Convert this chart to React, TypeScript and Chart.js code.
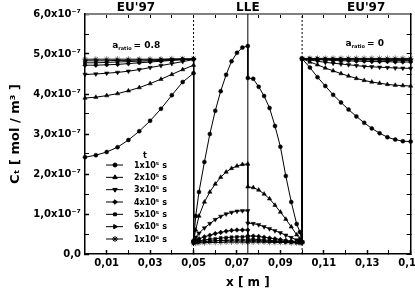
import React, { useEffect, useRef } from 'react';
import { Chart, registerables } from 'chart.js';
import { drawPoint } from 'chart.js/helpers';

Chart.register(...registerables);

const FONT = '"DejaVu Sans", Verdana, sans-serif';

// ---- data ----
const timeLabels = ['1x10\u2075 s', '2x10\u2075 s', '3x10\u2075 s', '4x10\u2075 s', '5x10\u2075 s', '6x10\u2075 s', '1x10\u2076 s'];

// x positions [m] of the four regions
const xEuLeft = [0, 0.005, 0.01, 0.015, 0.02, 0.025, 0.03, 0.035, 0.04, 0.045, 0.05];
const xLleLeft = [0.05, 0.051, 0.0525, 0.055, 0.0575, 0.06, 0.0625, 0.065, 0.0675, 0.07, 0.0725, 0.075];
const xLleRight = [0.075, 0.0775, 0.08, 0.0825, 0.085, 0.0875, 0.09, 0.0925, 0.095, 0.0975, 0.099, 0.1];
const xEuRight = [0.1, 0.1036, 0.1071, 0.1107, 0.1143, 0.1179, 0.1214, 0.125, 0.1286, 0.1321, 0.1357, 0.1393, 0.1429, 0.1464, 0.15];

// concentrations in 10^-7 mol/m3, one row per time
const cEuLeft = [
  [2.42, 2.47, 2.55, 2.67, 2.85, 3.07, 3.33, 3.63, 3.97, 4.3, 4.52],
  [3.9, 3.92, 3.96, 4.01, 4.08, 4.16, 4.26, 4.37, 4.49, 4.61, 4.72],
  [4.49, 4.5, 4.52, 4.54, 4.57, 4.61, 4.66, 4.71, 4.76, 4.81, 4.86],
  [4.72, 4.72, 4.73, 4.74, 4.76, 4.78, 4.8, 4.82, 4.84, 4.86, 4.87],
  [4.78, 4.78, 4.79, 4.8, 4.81, 4.82, 4.83, 4.84, 4.85, 4.86, 4.87],
  [4.83, 4.83, 4.83, 4.84, 4.84, 4.85, 4.85, 4.86, 4.86, 4.87, 4.87],
  [4.87, 4.87, 4.87, 4.87, 4.87, 4.87, 4.87, 4.87, 4.88, 4.88, 4.88],
];
const cLleLeft = [
  [0.3, 0.95, 1.55, 2.3, 3.0, 3.58, 4.07, 4.48, 4.82, 5.03, 5.16, 5.2],
  [0.35, 0.6, 0.95, 1.3, 1.55, 1.75, 1.92, 2.05, 2.14, 2.2, 2.24, 2.25],
  [0.32, 0.42, 0.52, 0.65, 0.76, 0.86, 0.94, 1.0, 1.04, 1.07, 1.08, 1.08],
  [0.3, 0.34, 0.38, 0.43, 0.47, 0.51, 0.54, 0.57, 0.59, 0.6, 0.6, 0.6],
  [0.29, 0.31, 0.33, 0.35, 0.37, 0.38, 0.4, 0.41, 0.42, 0.43, 0.43, 0.43],
  [0.28, 0.29, 0.3, 0.31, 0.32, 0.33, 0.34, 0.34, 0.35, 0.35, 0.35, 0.35],
  [0.27, 0.27, 0.28, 0.28, 0.29, 0.29, 0.29, 0.3, 0.3, 0.3, 0.3, 0.3],
];
const cLleRight = [
  [4.4, 4.38, 4.18, 3.95, 3.65, 3.2, 2.68, 1.95, 1.3, 0.75, 0.55, 0.3],
  [1.68, 1.66, 1.6, 1.5, 1.38, 1.22, 1.05, 0.87, 0.68, 0.48, 0.38, 0.3],
  [0.77, 0.76, 0.73, 0.68, 0.63, 0.58, 0.53, 0.47, 0.41, 0.35, 0.32, 0.3],
  [0.45, 0.45, 0.44, 0.42, 0.4, 0.38, 0.36, 0.34, 0.32, 0.31, 0.3, 0.3],
  [0.37, 0.37, 0.36, 0.35, 0.34, 0.33, 0.32, 0.31, 0.3, 0.3, 0.29, 0.29],
  [0.33, 0.33, 0.33, 0.32, 0.32, 0.31, 0.31, 0.3, 0.3, 0.29, 0.29, 0.29],
  [0.3, 0.3, 0.3, 0.3, 0.29, 0.29, 0.29, 0.29, 0.28, 0.28, 0.28, 0.28],
];
const cEuRight = [
  [4.88, 4.66, 4.42, 4.2, 3.98, 3.79, 3.61, 3.44, 3.28, 3.14, 3.02, 2.92, 2.86, 2.82, 2.81],
  [4.88, 4.8, 4.73, 4.65, 4.58, 4.51, 4.45, 4.39, 4.34, 4.3, 4.27, 4.24, 4.22, 4.21, 4.2],
  [4.88, 4.85, 4.82, 4.79, 4.77, 4.75, 4.73, 4.71, 4.69, 4.68, 4.67, 4.66, 4.65, 4.645, 4.64],
  [4.88, 4.87, 4.86, 4.85, 4.84, 4.83, 4.83, 4.82, 4.82, 4.81, 4.81, 4.81, 4.8, 4.8, 4.8],
  [4.88, 4.88, 4.87, 4.87, 4.86, 4.86, 4.86, 4.85, 4.85, 4.85, 4.85, 4.84, 4.84, 4.84, 4.84],
  [4.88, 4.88, 4.88, 4.87, 4.87, 4.87, 4.87, 4.87, 4.86, 4.86, 4.86, 4.86, 4.86, 4.86, 4.86],
  [4.89, 4.89, 4.89, 4.89, 4.89, 4.89, 4.89, 4.89, 4.89, 4.89, 4.89, 4.89, 4.89, 4.89, 4.89],
];

// region boundaries and headers
const interfaces = [0.05, 0.075, 0.1];
const regionLabels = ["EU'97", 'LLE', "EU'97"];
const regionLabelPos = [0.0235, 0.075, 0.1295];
const ratioLabels = ['0.8', '0'];

// ticks
const xTickValues = [0.01, 0.02, 0.03, 0.04, 0.05, 0.06, 0.07, 0.08, 0.09, 0.1, 0.11, 0.12, 0.13, 0.14, 0.15];
const xTickLabels = ['0,01', '', '0,03', '', '0,05', '', '0,07', '', '0,09', '', '0,11', '', '0,13', '', '0,15'];
const topTickValues = [0.01, 0.02, 0.03, 0.04, 0.05, 0.06, 0.07, 0.08, 0.09, 0.1, 0.11, 0.12, 0.13, 0.14];
const yTickValues = [0, 0.5, 1, 1.5, 2, 2.5, 3, 3.5, 4, 4.5, 5, 5.5, 6];
const yTickLabels = ['0,0', '', '1,0x10\u207B\u2077', '', '2,0x10\u207B\u2077', '', '3,0x10\u207B\u2077', '', '4,0x10\u207B\u2077', '', '5,0x10\u207B\u2077', '', '6,0x10\u207B\u2077'];

// ---- styles ----
const markers = [
  { pointStyle: 'circle', rotation: 0, radius: 2 },
  { pointStyle: 'triangle', rotation: 0, radius: 2.5 },
  { pointStyle: 'triangle', rotation: 180, radius: 2.5 },
  { pointStyle: 'rectRot', rotation: 0, radius: 2.3 },
  { pointStyle: 'rect', rotation: 0, radius: 2 },
  { pointStyle: 'triangle', rotation: 90, radius: 2.5 },
  { pointStyle: 'star', rotation: 0, radius: 3 },
];

const isRegionTick = (v: number) => regionLabelPos.some((p) => Math.abs(p - v) < 1e-9);

const legendPlugin = {
  id: 'timeLegend',
  afterDraw(chart: any) {
    const { ctx, chartArea } = chart;
    const x0 = chartArea.left + 21;
    const lastY = chartArea.bottom - 15;
    const step = 12.33;
    const n = timeLabels.length;
    ctx.save();
    ctx.fillStyle = '#000';
    ctx.strokeStyle = '#000';
    ctx.font = `bold 8px ${FONT}`;
    ctx.textBaseline = 'middle';
    ctx.textAlign = 'center';
    const firstY = lastY - (n - 1) * step;
    ctx.fillText('t', x0 + 39, firstY - 9);
    ctx.textAlign = 'left';
    timeLabels.forEach((lab, i) => {
      const y = lastY - (n - 1 - i) * step;
      ctx.lineWidth = 1;
      ctx.beginPath();
      ctx.moveTo(x0, y);
      ctx.lineTo(x0 + 17, y);
      ctx.stroke();
      drawPoint(ctx, { ...markers[i], borderWidth: 0.5 } as any, x0 + 9, y);
      ctx.fillStyle = '#000';
      ctx.fillText(lab, x0 + 28, y + 0.5);
    });
    ctx.restore();
  },
};

const ratioPlugin = {
  id: 'ratioText',
  afterDatasetsDraw(chart: any) {
    const { ctx } = chart;
    const xs = chart.scales.x;
    const ys = chart.scales.y;
    const anchors = [
      { x: 0.0125, y: 5.22 },
      { x: 0.12, y: 5.27 },
    ];
    ctx.save();
    ctx.fillStyle = '#000';
    ctx.textBaseline = 'middle';
    ctx.textAlign = 'left';
    anchors.forEach((a, i) => {
      let px = xs.getPixelForValue(a.x);
      const py = ys.getPixelForValue(a.y);
      ctx.font = `bold 9px ${FONT}`;
      ctx.fillText('a', px, py);
      px += ctx.measureText('a').width;
      ctx.font = `bold 5px ${FONT}`;
      ctx.fillText('ratio', px, py + 3.5);
      px += ctx.measureText('ratio').width + 2;
      ctx.font = `bold 9px ${FONT}`;
      ctx.fillText('= ' + ratioLabels[i], px, py);
    });
    ctx.restore();
  },
};

function buildDatasets() {
  const series = timeLabels.map((lab, i) => {
    const pts = [
      ...xEuLeft.map((x, k) => ({ x, y: cEuLeft[i][k] })),
      ...xLleLeft.map((x, k) => ({ x, y: cLleLeft[i][k] })),
      ...xLleRight.map((x, k) => ({ x, y: cLleRight[i][k] })),
      ...xEuRight.map((x, k) => ({ x, y: cEuRight[i][k] })),
    ];
    return {
      label: lab,
      data: pts,
      borderColor: '#000',
      backgroundColor: '#000',
      borderWidth: 1,
      pointStyle: markers[i].pointStyle,
      pointRotation: markers[i].rotation,
      pointRadius: markers[i].radius,
      pointBackgroundColor: '#000',
      pointBorderColor: '#000',
      pointBorderWidth: 0.5,
      tension: 0,
      clip: 6,
      order: 1,
    };
  });
  const dividers = interfaces.map((x, i) => ({
    label: 'interface' + i,
    data: [
      { x, y: yTickValues[0] },
      { x, y: yTickValues[yTickValues.length - 1] },
    ],
    borderColor: '#000',
    borderWidth: 1,
    borderDash: i === 1 ? [] : [2, 2],
    pointRadius: 0,
    tension: 0,
    order: 10,
  }));
  return [...series, ...dividers];
}

export default function App() {
  const ref = useRef<HTMLCanvasElement>(null);
  useEffect(() => {
    if (!ref.current) return;
    const chart = new Chart(ref.current, {
      type: 'line',
      data: { datasets: buildDatasets() as any },
      options: {
        animation: false,
        responsive: false,
        layout: { padding: { left: 0, right: 14, top: 0, bottom: 0 } },
        plugins: { legend: { display: false }, tooltip: { enabled: false } },
        scales: {
          x: {
            type: 'linear',
            position: 'bottom',
            min: 0,
            max: 0.15,
            afterBuildTicks: (s: any) => {
              s.ticks = xTickValues.map((v) => ({ value: v }));
            },
            afterFit: (s: any) => {
              s.height = 40;
            },
            ticks: {
              autoSkip: false,
              maxRotation: 0,
              padding: 7,
              color: '#000',
              font: { family: FONT, size: 10, weight: 'bold' },
              callback: (_v: any, i: number) => xTickLabels[i],
            },
            grid: {
              drawOnChartArea: false,
              drawTicks: true,
              tickLength: -4,
              color: '#000',
              tickWidth: (c: any) => (xTickLabels[c.index] ? 1.5 : 1),
            },
            border: { display: true, color: '#000', width: 1.5 },
            title: {
              display: true,
              text: 'x [ m ]',
              color: '#000',
              font: { family: FONT, size: 12, weight: 'bold' },
              padding: { top: 0, bottom: 4 },
            },
          },
          xt: {
            type: 'linear',
            position: 'top',
            min: 0,
            max: 0.15,
            afterBuildTicks: (s: any) => {
              s.ticks = [...topTickValues, ...regionLabelPos]
                .sort((a, b) => a - b)
                .map((v) => ({ value: v }));
            },
            afterFit: (s: any) => {
              s.height = 14;
            },
            ticks: {
              autoSkip: false,
              maxRotation: 0,
              padding: 3,
              color: '#000',
              font: { family: FONT, size: 12, weight: 'bold' },
              callback: (v: any) => {
                const k = regionLabelPos.findIndex((p) => Math.abs(p - v) < 1e-9);
                return k >= 0 ? regionLabels[k] : '';
              },
            },
            grid: {
              drawOnChartArea: false,
              drawTicks: true,
              tickLength: -4,
              color: '#000',
              tickColor: (c: any) => (c.tick && isRegionTick(c.tick.value) ? 'rgba(0,0,0,0)' : '#000'),
            },
            border: { display: true, color: '#808080', width: 2 },
          },
          y: {
            type: 'linear',
            position: 'left',
            min: 0,
            max: 6,
            afterBuildTicks: (s: any) => {
              s.ticks = yTickValues.map((v) => ({ value: v }));
            },
            afterFit: (s: any) => {
              s.width = 85;
            },
            ticks: {
              autoSkip: false,
              padding: 8,
              color: '#000',
              font: { family: FONT, size: 10, weight: 'bold' },
              callback: (_v: any, i: number) => yTickLabels[i],
            },
            grid: {
              drawOnChartArea: false,
              drawTicks: true,
              tickLength: -4,
              color: '#000',
              tickWidth: (c: any) => (yTickLabels[c.index] ? 1.5 : 1),
            },
            border: { display: true, color: '#000', width: 1.5 },
            title: {
              display: true,
              text: 'C\u209C [ mol / m\u00B3 ]',
              color: '#000',
              font: { family: FONT, size: 13, weight: 'bold' },
              padding: { top: 8, bottom: 0 },
            },
          },
          y2: {
            type: 'linear',
            position: 'right',
            min: 0,
            max: 6,
            afterBuildTicks: (s: any) => {
              s.ticks = yTickValues.map((v) => ({ value: v }));
            },
            afterFit: (s: any) => {
              s.width = 0;
            },
            ticks: { display: false },
            grid: {
              drawOnChartArea: false,
              drawTicks: true,
              tickLength: -4,
              color: '#000',
            },
            border: { display: true, color: '#000', width: 1.5 },
          },
        },
      } as any,
      plugins: [legendPlugin, ratioPlugin],
    });
    return () => chart.destroy();
  }, []);

  return (
    <div
      style={{
        position: 'fixed',
        left: 0,
        top: 0,
        width: 415,
        height: 294,
        overflow: 'hidden',
        background: '#fff',
      }}
    >
      <canvas ref={ref} width={430} height={294} style={{ display: 'block', width: 430, height: 294 }} />
    </div>
  );
}
